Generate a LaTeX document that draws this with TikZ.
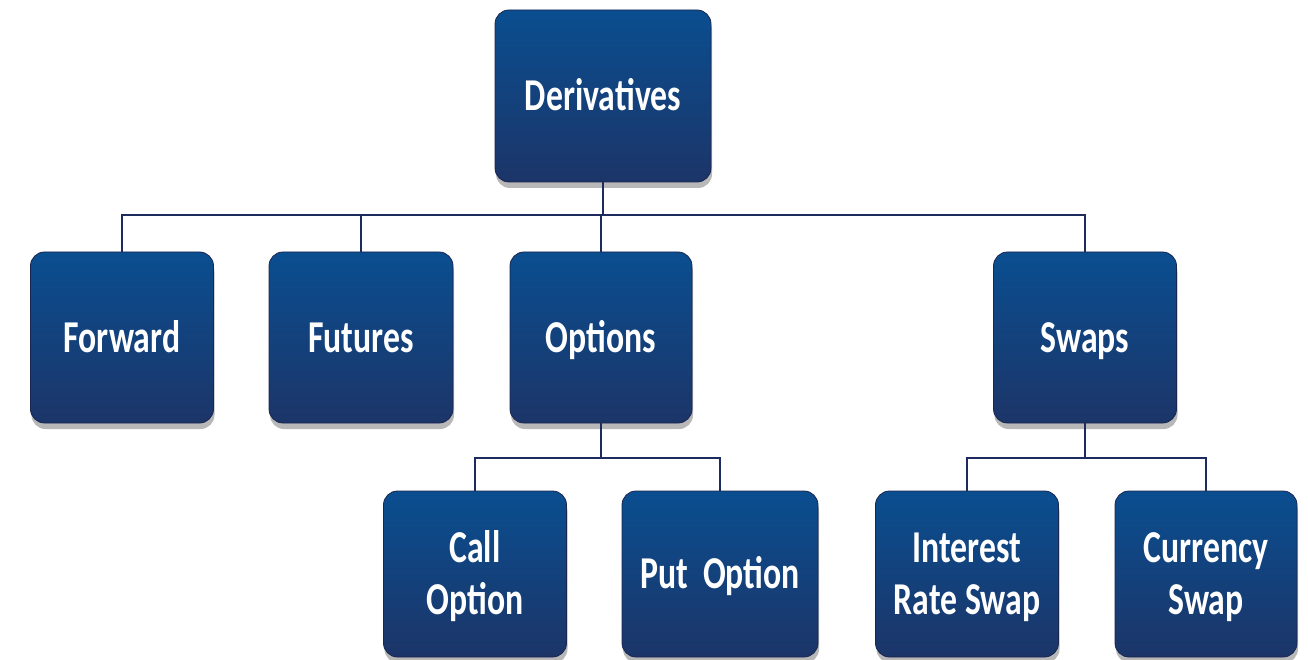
\documentclass[tikz,border=0pt]{standalone}
\usepackage{fontspec}
\newfontfamily\boxfont[FakeStretch=0.74]{Carlito}
\usetikzlibrary{shadows}
\definecolor{boxtop}{HTML}{0A4E90}
\definecolor{boxbot}{HTML}{1C3568}
\definecolor{boxedge}{HTML}{1A2650}
\definecolor{connc}{HTML}{1E2B5E}
\tikzset{
  catbox/.style={draw=boxedge, line width=0.8pt, rounded corners=14pt,
    top color=boxtop, bottom color=boxbot, text=white, inner sep=0pt,
    align=center, font=\boxfont\bfseries\fontsize{45.6}{52}\selectfont,
    text height=29pt, text depth=0pt,
    drop shadow={shadow xshift=1pt, shadow yshift=-6pt, fill=black, opacity=0.28}},
  twoline/.style={text height=81pt},
  conn/.style={draw=connc, line width=2.6pt}
}
\begin{document}
\begin{tikzpicture}[x=1pt, y=-1pt]
\fill[white] (0,0) rectangle (1308,660);
\useasboundingbox (0,0) rectangle (1308,660);
% top level
\node[catbox, minimum width=216pt, minimum height=172pt] (der) at (603,96) {Derivatives};
% second level
\node[catbox, minimum width=183pt, minimum height=171pt] (fwd) at (122,337.5) {Forward};
\node[catbox, minimum width=184pt, minimum height=171pt] (fut) at (361,337.5) {Futures};
\node[catbox, minimum width=182pt, minimum height=171pt] (opt) at (601,337.5) {Options};
\node[catbox, minimum width=183pt, minimum height=171pt] (swp) at (1085,337.5) {Swaps};
% third level
\node[catbox, twoline, minimum width=183pt, minimum height=166pt] (call) at (475,574) {Call\\Option};
\node[catbox, minimum width=196pt, minimum height=166pt] (put) at (720,574) {Put\ \ Option};
\node[catbox, twoline, minimum width=183pt, minimum height=166pt] (irs) at (967,574) {Interest\\Rate Swap};
\node[catbox, twoline, minimum width=182pt, minimum height=166pt] (cur) at (1206,574) {Currency\\Swap};
% buses
\coordinate (busA) at (0,215);
\coordinate (busB) at (0,458);
% connectors level 1
\draw[conn] (der.south) -- (der.south |- busA);
\draw[conn] (fwd.north) -- (fwd.north |- busA) -- (swp.north |- busA) -- (swp.north);
\draw[conn] (fut.north) -- (fut.north |- busA);
\draw[conn] (opt.north) -- (opt.north |- busA);
% connectors options
\draw[conn] (opt.south) -- (opt.south |- busB);
\draw[conn] (call.north) -- (call.north |- busB) -- (put.north |- busB) -- (put.north);
% connectors swaps
\draw[conn] (swp.south) -- (swp.south |- busB);
\draw[conn] (irs.north) -- (irs.north |- busB) -- (cur.north |- busB) -- (cur.north);
\end{tikzpicture}
\end{document}
